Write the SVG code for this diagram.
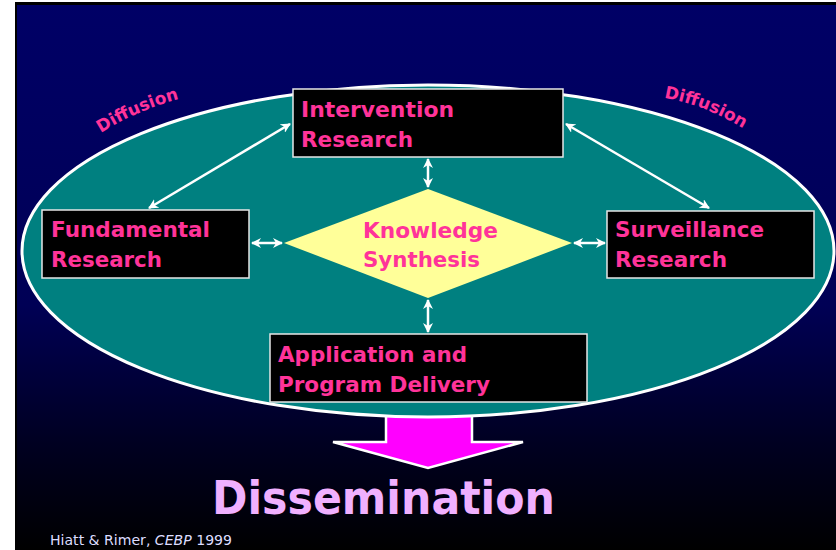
<svg xmlns="http://www.w3.org/2000/svg" width="836" height="550" viewBox="0 0 836 550">
<defs>
<linearGradient id="bg" x1="0" y1="0" x2="0" y2="1">
<stop offset="0" stop-color="#000066"/>
<stop offset="0.55" stop-color="#000055"/>
<stop offset="0.8" stop-color="#000022"/>
<stop offset="1" stop-color="#000000"/>
</linearGradient>
<marker id="ah" viewBox="0 0 10 10" refX="9" refY="5" markerWidth="4" markerHeight="4" orient="auto-start-reverse" markerUnits="strokeWidth">
<path d="M0,0 L10,5 L0,10 L3,5 Z" fill="#ffffff"/>
</marker>
<path id="dl" d="M 101 133 Q 138 109 190 96"/>
<path id="dr" d="M 664 98 Q 708 105 752 134"/>
</defs>
<style>
.box{fill:#000000;stroke:#e6e6e6;stroke-width:1.5}
.lbl{font-family:"DejaVu Sans",Verdana,sans-serif;font-weight:bold;font-size:21.5px;fill:#ff3399}
.conn{stroke:#ffffff;stroke-width:2.5;fill:none;marker-start:url(#ah);marker-end:url(#ah)}
.diff{font-family:"DejaVu Sans",Verdana,sans-serif;font-weight:bold;font-size:17px;fill:#ff3399}
</style>
<rect x="0" y="0" width="836" height="550" fill="#ffffff"/>
<rect x="15" y="2" width="821" height="548" fill="#000000"/>
<rect x="17" y="5" width="819" height="545" fill="url(#bg)"/>

<g id="dissemination-arrow">
<path d="M386,400 L472,400 L472,442 L523,442 L428,468 L333,442 L386,442 Z" fill="#ff00ff" stroke="#ffffff" stroke-width="2.5" stroke-linejoin="miter"/>
</g>

<g id="ellipse">
<ellipse cx="428" cy="251" rx="406" ry="166" fill="#008080" stroke="#ffffff" stroke-width="3"/>
</g>

<g id="diffusion-left">
<text class="diff"><textPath href="#dl">Diffusion</textPath></text>
</g>
<g id="diffusion-right">
<text class="diff"><textPath href="#dr">Diffusion</textPath></text>
</g>

<g id="connectors">
<line class="conn" x1="290" y1="124" x2="149" y2="208"/>
<line class="conn" x1="566" y1="124" x2="709" y2="208"/>
<line class="conn" x1="428" y1="159" x2="428" y2="187"/>
<line class="conn" x1="428" y1="300" x2="428" y2="332"/>
<line class="conn" x1="252" y1="243" x2="282" y2="243"/>
<line class="conn" x1="574" y1="243" x2="605" y2="243"/>
</g>

<g id="knowledge-synthesis">
<polygon points="428,189 572,243 428,298 284,243" fill="#ffff99"/>
<text class="lbl" x="363" y="238" textLength="135" lengthAdjust="spacingAndGlyphs">Knowledge</text>
<text class="lbl" x="363" y="267" textLength="117" lengthAdjust="spacingAndGlyphs">Synthesis</text>
</g>

<g id="intervention-research">
<rect class="box" x="293" y="89" width="270" height="68"/>
<text class="lbl" x="301" y="117" textLength="153" lengthAdjust="spacingAndGlyphs">Intervention</text>
<text class="lbl" x="301" y="147" textLength="112" lengthAdjust="spacingAndGlyphs">Research</text>
</g>

<g id="fundamental-research">
<rect class="box" x="42" y="210" width="207" height="68"/>
<text class="lbl" x="51" y="237" textLength="159" lengthAdjust="spacingAndGlyphs">Fundamental</text>
<text class="lbl" x="51" y="267" textLength="111" lengthAdjust="spacingAndGlyphs">Research</text>
</g>

<g id="surveillance-research">
<rect class="box" x="607" y="211" width="207" height="67"/>
<text class="lbl" x="615" y="237" textLength="149" lengthAdjust="spacingAndGlyphs">Surveillance</text>
<text class="lbl" x="615" y="267" textLength="112" lengthAdjust="spacingAndGlyphs">Research</text>
</g>

<g id="application-program-delivery">
<rect class="box" x="270" y="334" width="317" height="68"/>
<text class="lbl" x="278" y="362" textLength="189" lengthAdjust="spacingAndGlyphs">Application and</text>
<text class="lbl" x="278" y="392" textLength="212" lengthAdjust="spacingAndGlyphs">Program Delivery</text>
</g>

<g id="dissemination">
<text x="212" y="514" font-family="'DejaVu Sans',Verdana,sans-serif" font-weight="bold" font-size="47" fill="#f0b0ff" textLength="343" lengthAdjust="spacingAndGlyphs">Dissemination</text>
</g>

<g id="citation">
<text x="50" y="545" font-family="'DejaVu Sans',Tahoma,sans-serif" font-size="14.5" fill="#ddddff" textLength="182" lengthAdjust="spacingAndGlyphs">Hiatt &amp; Rimer, <tspan font-style="italic">CEBP</tspan> 1999</text>
</g>
</svg>
